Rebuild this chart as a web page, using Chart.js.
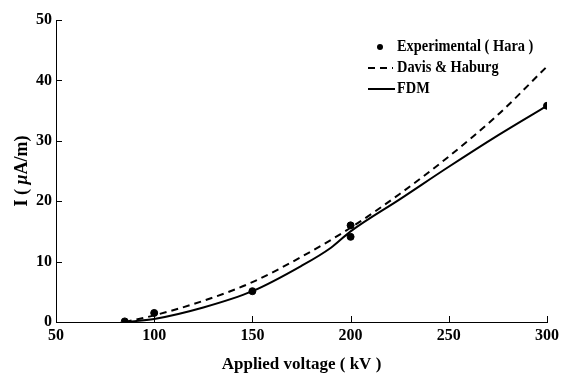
<!DOCTYPE html>
<html>
<head>
<meta charset="utf-8">
<script src="https://cdn.jsdelivr.net/npm/chart.js@4"></script>
<style>
  html, body { margin: 0; padding: 0; background: #fff; }
  #wrap { width: 571px; height: 375px; }
</style>
</head>
<body>
<div id="wrap"><canvas id="grafico" width="571" height="375"></canvas></div>
<script>
// valores
var expX = [85, 100, 150, 200, 200, 300];
var expY = [0.1, 1.5, 5.1, 16.0, 14.1, 35.8];
var davisX = [85, 100, 125, 150, 175, 200, 225, 250, 275, 300];
var davisY = [0, 1.1, 3.5, 6.6, 10.8, 15.6, 21.2, 27.4, 34.3, 42.3];
var fdmX = [85, 100, 125, 150, 175, 190, 200, 225, 250, 275, 300];
var fdmY = [0, 0.5, 2.4, 5.1, 9.3, 12.3, 15.0, 20.3, 25.7, 30.9, 35.8];
var xTicks = [50, 100, 150, 200, 250, 300];
var yTicks = [0, 10, 20, 30, 40, 50];
var labels = ['Experimental ( Hara )', 'Davis & Haburg', 'FDM'];

var fonte = 'bold 16px "Liberation Serif"';
var pares = function (xs, ys) {
    return xs.map(function (x, i) { return { x: x, y: ys[i] }; });
};

// texto mais estreito, como no original
var textoEstreito = function (ctx, txt, x, y) {
    ctx.save();
    ctx.translate(x, y);
    ctx.scale(0.9, 1);
    ctx.fillText(txt, 0, 0);
    ctx.restore();
};

// ticks para dentro + legenda dentro da area
var extras = {
    id: 'extras',
    afterDraw: function (chart) {
        var ctx = chart.ctx;
        var sx = chart.scales.x, sy = chart.scales.y;
        var area = chart.chartArea;
        ctx.save();
        ctx.strokeStyle = '#000';
        ctx.lineWidth = 1;
        xTicks.forEach(function (v) {
            var p = Math.round(sx.getPixelForValue(v)) + 0.5;
            ctx.beginPath(); ctx.moveTo(p, area.bottom); ctx.lineTo(p, area.bottom - 6); ctx.stroke();
        });
        yTicks.forEach(function (v) {
            var p = Math.round(sy.getPixelForValue(v)) + 0.5;
            ctx.beginPath(); ctx.moveTo(area.left, p); ctx.lineTo(area.left + 6, p); ctx.stroke();
        });

        // legenda
        var lx = 368, tx = 397, ys = [47, 68, 89];
        ctx.fillStyle = '#000';
        ctx.font = fonte;
        ctx.textBaseline = 'middle';
        ctx.textAlign = 'left';
        ctx.beginPath(); ctx.arc(380, ys[0], 3, 0, Math.PI * 2); ctx.fill();
        textoEstreito(ctx, labels[0], tx, ys[0]);
        ctx.lineWidth = 2;
        ctx.setLineDash([7, 5]);
        ctx.beginPath(); ctx.moveTo(lx, ys[1]); ctx.lineTo(lx + 25, ys[1]); ctx.stroke();
        textoEstreito(ctx, labels[1], tx, ys[1]);
        ctx.setLineDash([]);
        ctx.beginPath(); ctx.moveTo(lx, ys[2]); ctx.lineTo(lx + 27, ys[2]); ctx.stroke();
        textoEstreito(ctx, labels[2], tx, ys[2]);

        // titulo do eixo y com mu italico
        ctx.translate(22, 171);
        ctx.rotate(-Math.PI / 2);
        ctx.textAlign = 'left';
        var partes = [['I ( ', 'bold 18px "Liberation Serif"'], ['\u03bc', 'bold italic 18px "Liberation Serif"'], ['A/m)', 'bold 18px "Liberation Serif"']];
        var total = 0;
        partes.forEach(function (p) { ctx.font = p[1]; total += ctx.measureText(p[0]).width; });
        var cx = -total / 2;
        partes.forEach(function (p) {
            ctx.font = p[1];
            ctx.fillText(p[0], cx, 0);
            cx += ctx.measureText(p[0]).width;
        });
        ctx.restore();
    }
};

var ctx = document.getElementById('grafico').getContext('2d');
window.RLGrafico = new Chart(ctx, {
    type: 'scatter',
    data: {
        datasets: [{
            label: labels[0],
            data: pares(expX, expY),
            showLine: false,
            pointRadius: 3.5,
            backgroundColor: '#000',
            borderColor: '#000'
        },
        {
            label: labels[1],
            data: pares(davisX, davisY),
            showLine: true,
            cubicInterpolationMode: 'monotone',
            pointRadius: 0,
            borderColor: '#000',
            borderWidth: 2,
            borderDash: [7, 5]
        },
        {
            label: labels[2],
            data: pares(fdmX, fdmY),
            showLine: true,
            cubicInterpolationMode: 'monotone',
            pointRadius: 0,
            borderColor: '#000',
            borderWidth: 2
        }]
    },
    options: {
        responsive: false,
        animation: false,
        layout: { padding: { top: 20, right: 24, left: 0, bottom: 0 } },
        plugins: { legend: { display: false }, tooltip: { enabled: false } },
        scales: {
            x: {
                type: 'linear',
                min: 50, max: 300,
                afterBuildTicks: function (s) { s.ticks = xTicks.map(function (v) { return { value: v }; }); },
                grid: { display: false, drawTicks: false, tickLength: 0 },
                border: { display: true, color: '#000', width: 1 },
                ticks: { color: '#000', font: { family: 'Liberation Serif', size: 16, weight: 'bold' }, padding: 4, maxRotation: 0 },
                title: { display: true, text: 'Applied voltage ( kV )', color: '#000', font: { family: 'Liberation Serif', size: 17, weight: 'bold' }, padding: { top: 0, bottom: 0 } },
                afterFit: function (s) { s.height = 53; }
            },
            y: {
                type: 'linear',
                min: 0, max: 50,
                afterBuildTicks: function (s) { s.ticks = yTicks.map(function (v) { return { value: v }; }); },
                grid: { display: false, drawTicks: false, tickLength: 0 },
                border: { display: true, color: '#000', width: 1 },
                ticks: { color: '#000', font: { family: 'Liberation Serif', size: 16, weight: 'bold' }, padding: 4 },
                title: { display: false },
                afterFit: function (s) { s.width = 56; }
            }
        }
    },
    plugins: [extras]
});
</script>
</body>
</html>
